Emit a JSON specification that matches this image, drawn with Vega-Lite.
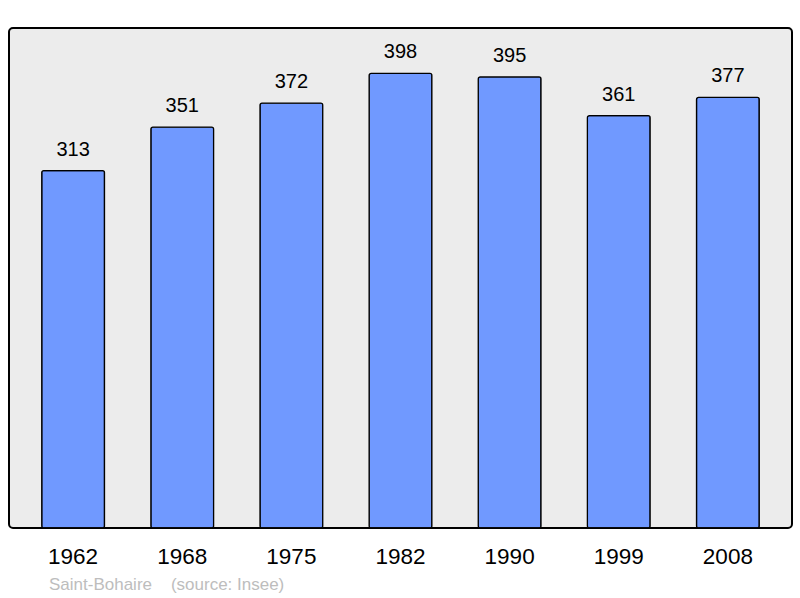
{
  "$schema": "https://vega.github.io/schema/vega-lite/v6.json",
  "autosize": "none",
  "width": 783,
  "height": 500,
  "padding": {"left": 9, "top": 28, "right": 8, "bottom": 70},
  "background": "white",
  "config": {
    "view": {"fill": "#ececec", "stroke": "#000000", "strokeWidth": 2, "cornerRadius": 4},
    "font": "Liberation Sans"
  },
  "title": {
    "text": "Saint-Bohaire\u00a0\u00a0\u00a0\u00a0(source: Insee)",
    "orient": "bottom",
    "anchor": "start",
    "dx": 40,
    "offset": 9,
    "fontSize": 17,
    "fontWeight": "normal",
    "color": "#bdbdbd",
    "font": "Liberation Sans"
  },
  "data": {
    "values": [
      {"year": "1962", "pop": 313},
      {"year": "1968", "pop": 351},
      {"year": "1975", "pop": 372},
      {"year": "1982", "pop": 398},
      {"year": "1990", "pop": 395},
      {"year": "1999", "pop": 361},
      {"year": "2008", "pop": 377}
    ]
  },
  "encoding": {
    "x": {
      "field": "year",
      "type": "ordinal",
      "sort": null,
      "scale": {"paddingInner": 0.425, "paddingOuter": 0.3},
      "axis": {
        "title": null,
        "domain": false,
        "ticks": false,
        "labelAngle": 0,
        "labelFontSize": 22.5,
        "labelColor": "#000000",
        "labelPadding": 17,
        "labelFont": "Liberation Sans"
      }
    },
    "y": {
      "field": "pop",
      "type": "quantitative",
      "scale": {"domain": [0, 437.8], "nice": false, "zero": true},
      "axis": null
    }
  },
  "layer": [
    {
      "mark": {"type": "bar", "fill": "#7099ff", "stroke": "#000000", "strokeWidth": 1.3, "cornerRadius": 2}
    },
    {
      "mark": {"type": "text", "baseline": "bottom", "dy": -11, "fontSize": 20, "color": "#000000", "font": "Liberation Sans"},
      "encoding": {"text": {"field": "pop", "type": "quantitative"}}
    }
  ]
}
